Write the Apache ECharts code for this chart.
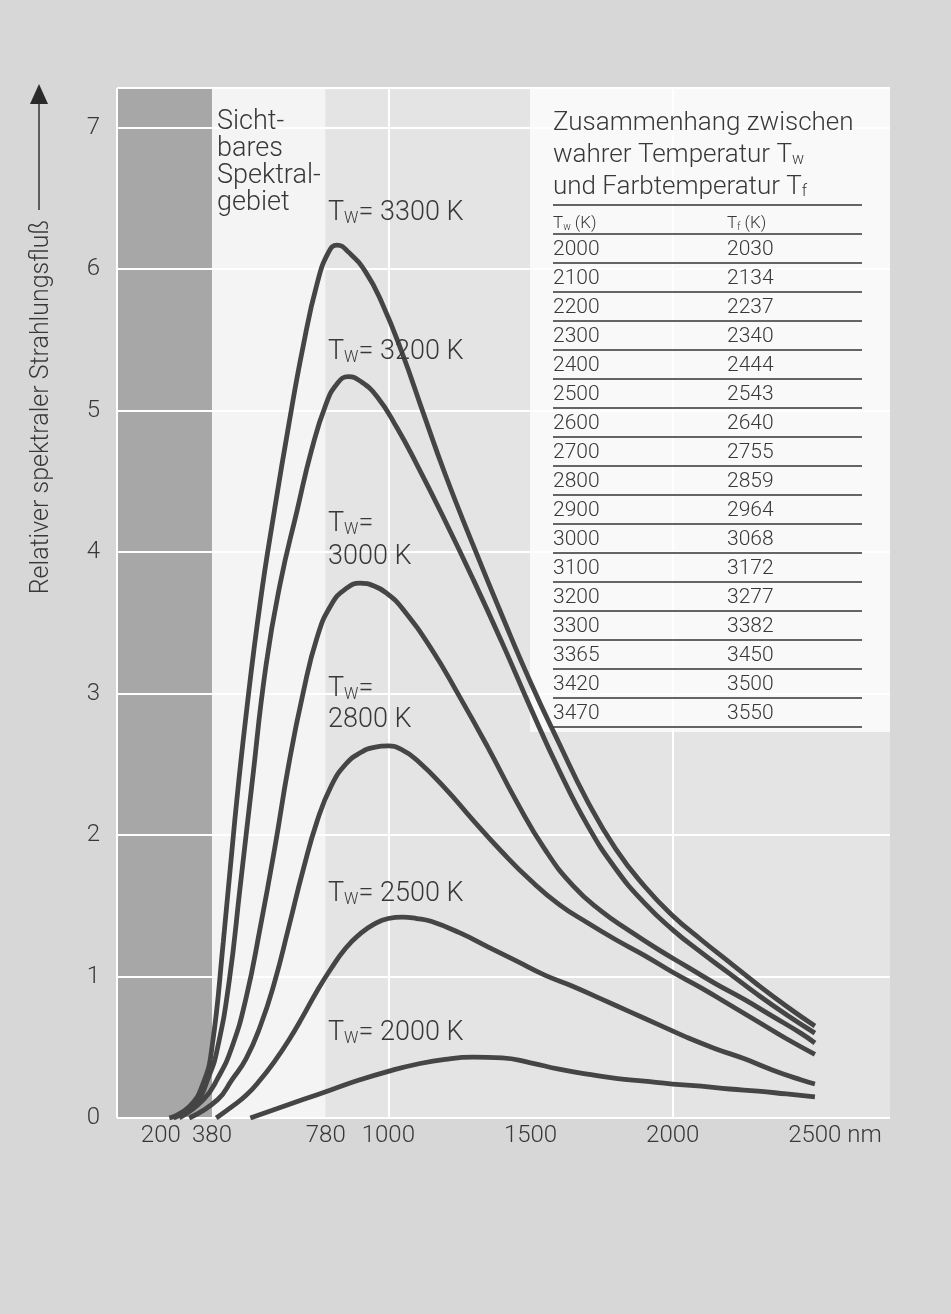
<!DOCTYPE html>
<html>
<head>
<meta charset="utf-8">
<script src="https://cdn.jsdelivr.net/npm/echarts@6/dist/echarts.min.js"></script>
<style>
  html, body { margin: 0; padding: 0; background: #d7d7d7; }
  #chart { width: 951px; height: 1314px; }
</style>
</head>
<body>
<div id="chart"></div>
<script>
// axis ranges (wavelength in nm, relative flux)
const xMin = 46, xMax = 2764;
const yMax = 7.28;
const xTicks = [200, 380, 780, 1000, 1500, 2000, 2500];
const yTicks = [0, 1, 2, 3, 4, 5, 6, 7];
const gridX = [1000, 2000];

// spectral bands: UV, visible, infrared
const bandUV = [xMin, 380];
const bandVis = [380, 780];
const bandIR = [780, xMax];

// curves: [wavelength nm, relative spectral flux]
const tw3300 = [[230,0],[300,0.08],[350,0.25],[380,0.5],[420,1.25],[460,2.1],[500,2.85],[550,3.65],[600,4.3],[650,4.9],[700,5.45],[750,5.9],[790,6.12],[820,6.17],[860,6.12],[920,5.98],[980,5.75],[1050,5.4],[1120,5.0],[1200,4.55],[1300,4.04],[1400,3.55],[1500,3.08],[1600,2.65],[1700,2.24],[1800,1.9],[1900,1.64],[2000,1.43],[2100,1.26],[2200,1.1],[2300,0.94],[2400,0.79],[2500,0.65]];
const tw3200 = [[245,0],[320,0.1],[370,0.3],[400,0.5],[440,0.96],[480,1.65],[520,2.35],[570,3.2],[620,3.78],[680,4.3],[730,4.72],[780,5.04],[820,5.19],[860,5.24],[900,5.21],[960,5.1],[1030,4.88],[1100,4.62],[1200,4.22],[1300,3.8],[1400,3.36],[1500,2.9],[1600,2.46],[1700,2.07],[1800,1.76],[1900,1.52],[2000,1.33],[2100,1.17],[2200,1.02],[2300,0.87],[2400,0.73],[2500,0.6]];
const tw3000 = [[265,0],[350,0.13],[400,0.28],[450,0.5],[500,0.85],[550,1.35],[600,1.9],[650,2.5],[700,3.0],[750,3.4],[800,3.63],[850,3.74],[900,3.78],[950,3.76],[1000,3.7],[1050,3.6],[1150,3.32],[1250,2.98],[1350,2.62],[1450,2.24],[1550,1.9],[1650,1.64],[1750,1.46],[1850,1.32],[1950,1.19],[2050,1.07],[2150,0.95],[2250,0.84],[2350,0.72],[2450,0.6],[2500,0.53]];
const tw2800 = [[300,0],[400,0.13],[450,0.27],[500,0.42],[550,0.65],[600,0.96],[650,1.35],[700,1.75],[750,2.1],[800,2.35],[850,2.5],[900,2.58],[950,2.62],[1000,2.63],[1050,2.6],[1100,2.53],[1200,2.33],[1300,2.1],[1400,1.88],[1500,1.68],[1600,1.51],[1700,1.38],[1800,1.26],[1900,1.15],[2000,1.03],[2100,0.92],[2200,0.8],[2300,0.68],[2400,0.56],[2500,0.45]];
const tw2500 = [[395,0],[450,0.08],[500,0.16],[550,0.27],[600,0.4],[650,0.55],[700,0.72],[750,0.9],[800,1.06],[850,1.2],[900,1.3],[950,1.37],[1000,1.41],[1050,1.42],[1100,1.41],[1150,1.39],[1250,1.31],[1350,1.21],[1450,1.11],[1550,1.01],[1650,0.93],[1750,0.84],[1850,0.75],[1950,0.66],[2050,0.57],[2150,0.49],[2250,0.42],[2350,0.34],[2450,0.27],[2500,0.24]];
const tw2000 = [[515,0],[600,0.06],[700,0.13],[800,0.2],[900,0.27],[1000,0.33],[1100,0.38],[1200,0.415],[1300,0.43],[1400,0.425],[1500,0.39],[1600,0.345],[1700,0.31],[1800,0.28],[1900,0.26],[2000,0.24],[2100,0.225],[2200,0.205],[2300,0.19],[2400,0.17],[2500,0.15]];

// table: true temperature vs colour temperature (K)
const twTable = [2000, 2100, 2200, 2300, 2400, 2500, 2600, 2700, 2800, 2900, 3000, 3100, 3200, 3300, 3365, 3420, 3470];
const tfTable = [2030, 2134, 2237, 2340, 2444, 2543, 2640, 2755, 2859, 2964, 3068, 3172, 3277, 3382, 3450, 3500, 3550];

const ink = '#383838';
const font = 'Roboto';

function richSub(size, lh) {
  const sub = Math.round(size * 0.6);
  return {
    t: { fontSize: size, lineHeight: lh || size + 6, fill: ink, fontFamily: font, fontWeight: 300, verticalAlign: 'bottom' },
    s: { fontSize: sub, lineHeight: sub, fill: ink, fontFamily: font, fontWeight: 300, verticalAlign: 'bottom' }
  };
}

function label(x, y, text, size, lh) {
  return {
    type: 'text', x: x, y: y, z: 10, silent: true,
    style: { text: text, rich: richSub(size, lh), verticalAlign: 'middle', align: 'left' }
  };
}

const graphics = [];

// white table background
graphics.push({ type: 'rect', z: 3, silent: true,
  shape: { x: 530, y: 88, width: 360, height: 644 }, style: { fill: '#f9f9f9' } });

// y axis title with arrow
graphics.push({ type: 'text', x: 42, y: 407, rotation: Math.PI / 2, z: 10, silent: true,
  style: { text: 'Relativer spektraler Strahlungsfluß', fontSize: 25, fontFamily: font, fontWeight: 300,
    fill: ink, align: 'center', verticalAlign: 'middle' } });
graphics.push({ type: 'line', z: 10, silent: true,
  shape: { x1: 39, y1: 210, x2: 39, y2: 100 }, style: { stroke: '#333', lineWidth: 1.5 } });
graphics.push({ type: 'polygon', z: 10, silent: true,
  shape: { points: [[39, 84], [30, 104], [48, 104]] }, style: { fill: '#2a2a2a' } });

// annotations
graphics.push({ type: 'text', x: 217, y: 109, z: 10, silent: true,
  style: { text: 'Sicht-\nbares\nSpektral-\ngebiet', fontSize: 27, lineHeight: 27, fontFamily: font,
    fontWeight: 300, fill: ink, align: 'left', verticalAlign: 'top' } });
graphics.push(label(328, 210, '{t|T}{s|W}{t|= 3300 K}', 27));
graphics.push(label(328, 349, '{t|T}{s|W}{t|= 3200 K}', 27));
graphics.push(label(328, 538, '{t|T}{s|W}{t|=}\n{t|3000 K}', 27, 33));
graphics.push(label(328, 703, '{t|T}{s|W}{t|=}\n{t|2800 K}', 27, 31));
graphics.push(label(328, 891, '{t|T}{s|W}{t|= 2500 K}', 27));
graphics.push(label(328, 1030, '{t|T}{s|W}{t|= 2000 K}', 27));

// table title and header
graphics.push(label(553, 152, '{t|Zusammenhang zwischen}\n{t|wahrer Temperatur T}{s|w}\n{t|und Farbtemperatur T}{s|f}', 26, 32));
const tabL = 553, tabR = 862, col2 = 727;
graphics.push({ type: 'line', z: 10, silent: true,
  shape: { x1: tabL, y1: 205, x2: tabR, y2: 205 }, style: { stroke: '#333', lineWidth: 1.3 } });
graphics.push(label(tabL, 221, '{t|T}{s|w}{t| (K)}', 17));
graphics.push(label(col2, 221, '{t|T}{s|f}{t| (K)}', 17));
graphics.push({ type: 'line', z: 10, silent: true,
  shape: { x1: tabL, y1: 234, x2: tabR, y2: 234 }, style: { stroke: '#333', lineWidth: 1.3 } });
twTable.forEach(function (tw, i) {
  const y = 250 + 29 * i;
  graphics.push({ type: 'text', x: tabL, y: y, z: 10, silent: true,
    style: { text: String(tw), fontSize: 21, fontFamily: font, fontWeight: 300, fill: ink, verticalAlign: 'middle' } });
  graphics.push({ type: 'text', x: col2, y: y, z: 10, silent: true,
    style: { text: String(tfTable[i]), fontSize: 21, fontFamily: font, fontWeight: 300, fill: ink, verticalAlign: 'middle' } });
  graphics.push({ type: 'line', z: 10, silent: true,
    shape: { x1: tabL, y1: y + 13, x2: tabR, y2: y + 13 }, style: { stroke: '#333', lineWidth: 1.3 } });
});

const curves = [
  ['3300 K', tw3300], ['3200 K', tw3200], ['3000 K', tw3000],
  ['2800 K', tw2800], ['2500 K', tw2500], ['2000 K', tw2000]
];

const series = [
  {
    // background bands
    type: 'line', data: [], z: 1, silent: true,
    markArea: {
      silent: true,
      data: [
        [{ xAxis: bandUV[0], itemStyle: { color: '#a7a7a7' } }, { xAxis: bandUV[1] }],
        [{ xAxis: bandVis[0], itemStyle: { color: '#f4f4f4' } }, { xAxis: bandVis[1] }],
        [{ xAxis: bandIR[0], itemStyle: { color: '#e4e4e4' } }, { xAxis: bandIR[1] }]
      ]
    }
  },
  {
    // white grid lines and frame
    type: 'line', data: [], z: 2, silent: true,
    markLine: {
      silent: true, symbol: ['none', 'none'], label: { show: false },
      lineStyle: { color: '#ffffff', width: 2, type: 'solid' },
      data: yTicks.map(function (v) { return { yAxis: v }; })
        .concat([{ yAxis: yMax }, { xAxis: xMin }])
        .concat(gridX.map(function (v) { return { xAxis: v }; }))
    }
  }
].concat(curves.map(function (c) {
  return {
    name: c[0], type: 'line', data: c[1], z: 5,
    smooth: 0.5, symbol: 'none',
    lineStyle: { color: '#454545', width: 4.8 }
  };
}));

const chart = echarts.init(document.getElementById('chart'));
chart.setOption({
  animation: false,
  backgroundColor: '#d7d7d7',
  grid: { left: 117, top: 88, right: 61, bottom: 196 },
  xAxis: {
    type: 'value', min: xMin, max: xMax,
    axisLine: { show: false }, axisTick: { show: false }, splitLine: { show: false },
    axisLabel: {
      customValues: xTicks, margin: 6, fontSize: 24, color: ink, fontFamily: font, fontWeight: 300,
      formatter: function (v) { return v === 2500 ? '{p|2500} nm' : String(v); },
      rich: { p: { padding: [0, 0, 0, 40], fontSize: 24, color: ink, fontFamily: font, fontWeight: 300 } }
    }
  },
  yAxis: {
    type: 'value', min: 0, max: yMax,
    axisLine: { show: false }, axisTick: { show: false }, splitLine: { show: false },
    axisLabel: { customValues: yTicks, margin: 17, fontSize: 24, color: ink, fontFamily: font, fontWeight: 300 }
  },
  graphic: graphics,
  series: series
});
</script>
</body>
</html>
